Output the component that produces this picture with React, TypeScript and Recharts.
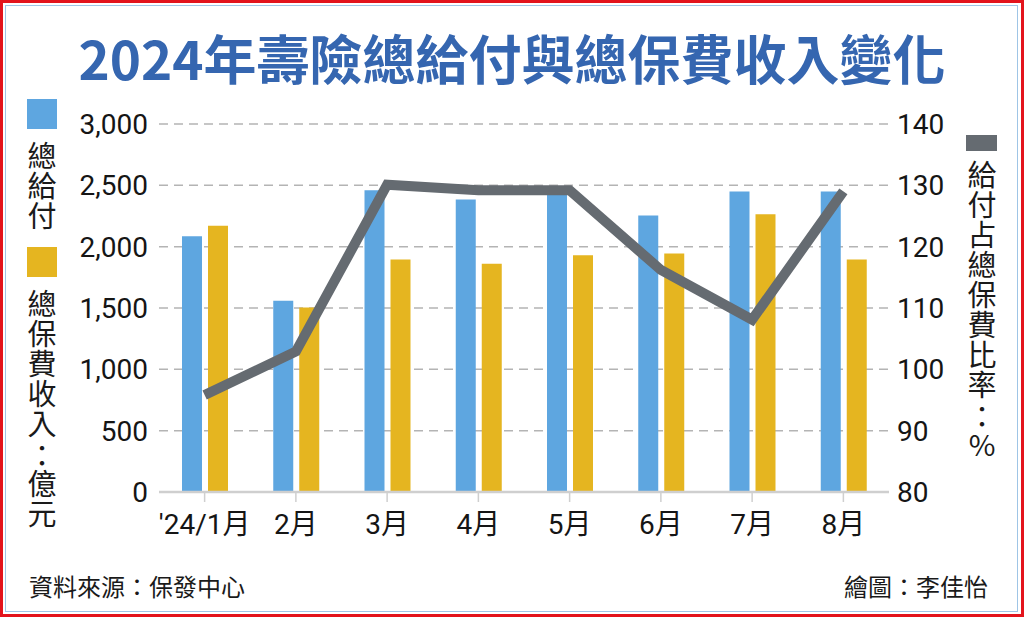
import { ComposedChart, Bar, Line, XAxis, YAxis, CartesianGrid } from 'recharts';

// 2024年壽險總給付與總保費收入變化 (億元 / %)
const months = ["'24/1月", '2月', '3月', '4月', '5月', '6月', '7月', '8月'];
const totalPayout = [2085, 1560, 2460, 2385, 2455, 2255, 2450, 2450];
const totalPremium = [2170, 1505, 1895, 1860, 1930, 1945, 2265, 1895];
const payoutRatio = [95.8, 102.9, 130.1, 129.2, 129.2, 116.2, 108.1, 129.0];

const leftTicks = [0, 500, 1000, 1500, 2000, 2500, 3000];
const rightTicks = [80, 90, 100, 110, 120, 130, 140];

const BLUE = '#5ea6e0';
const YELLOW = '#e5b520';
const GREY = '#656b71';
const CJK = "'Noto Sans CJK TC', 'Noto Sans', sans-serif";
const NUM = "Roboto, 'Noto Sans CJK TC', sans-serif";

const data = months.map((m, i) => ({
  month: m,
  payout: totalPayout[i],
  premium: totalPremium[i],
  ratio: payoutRatio[i],
}));

// vertical legend caption; the colon is set horizontally so its dots stay stacked
function VText({ text, left, top }: { text: string; left: number; top: number }) {
  const parts = text.split('：');
  return (
    <div
      style={{
        position: 'absolute',
        left,
        top,
        width: 30,
        writingMode: 'vertical-rl',
        textOrientation: 'upright',
        fontFamily: CJK,
        fontSize: 29,
        lineHeight: '30px',
        letterSpacing: 1,
        color: '#1a1a1a',
      }}
    >
      {parts.map((p, i) => (
        <span key={i}>
          {i > 0 && (
            <span
              style={{
                display: 'inline-block',
                writingMode: 'horizontal-tb',
                width: 30,
                height: 30,
                lineHeight: '30px',
                textAlign: 'center',
                letterSpacing: 0,
              }}
            >
              ：
            </span>
          )}
          {p}
        </span>
      ))}
    </div>
  );
}

export default function App() {
  return (
    <div style={{ position: 'relative', width: 1024, height: 617, background: '#fff', overflow: 'hidden' }}>
      <style>{`body{margin:0}`}</style>

      <div
        style={{
          position: 'absolute',
          left: 0,
          top: 26,
          width: '100%',
          height: 62,
          textAlign: 'center',
          lineHeight: '62px',
          fontFamily: CJK,
          fontWeight: 700,
          fontSize: 53,
          color: '#3566b0',
        }}
      >
        2024年壽險總給付與總保費收入變化
      </div>

      {/* left legend */}
      <div style={{ position: 'absolute', left: 27, top: 99, width: 30, height: 30, background: BLUE }} />
      <VText text="總給付" left={27} top={141} />
      <div style={{ position: 'absolute', left: 27, top: 247, width: 30, height: 30, background: YELLOW }} />
      <VText text="總保費收入：億元" left={27} top={289} />

      {/* right legend */}
      <div style={{ position: 'absolute', left: 966, top: 135, width: 31, height: 16, background: GREY }} />
      <VText text="給付占總保費比率：%" left={967} top={160} />

      <div style={{ position: 'absolute', left: 0, top: 0 }}>
        <ComposedChart
          width={1024}
          height={617}
          data={data}
          margin={{ top: 124, right: 0, bottom: 0, left: 0 }}
          barGap={6}
        >
          <CartesianGrid
            yAxisId="left"
            vertical={false}
            stroke="#b4b4b4"
            strokeWidth={1.5}
            strokeDasharray="9 6"
          />
          <XAxis
            dataKey="month"
            height={125}
            axisLine={{ stroke: '#cfcfcf', strokeWidth: 2.5 }}
            tickLine={{ stroke: '#cfcfcf', strokeWidth: 1.5 }}
            tickSize={10}
            tickMargin={12}
            tick={{ fontSize: 28, fill: '#151515', fontFamily: NUM }}
            interval={0}
          />
          <YAxis
            yAxisId="left"
            width={159}
            domain={[0, 3000]}
            ticks={leftTicks}
            axisLine={false}
            tickLine={false}
            tickMargin={5}
            tick={{ fontSize: 28, fill: '#151515', fontFamily: NUM }}
            tickFormatter={(v: number) => v.toLocaleString('en-US')}
          />
          <YAxis
            yAxisId="right"
            orientation="right"
            width={135}
            domain={[80, 140]}
            ticks={rightTicks}
            axisLine={false}
            tickLine={false}
            tick={{ fontSize: 28, fill: '#151515', fontFamily: NUM }}
          />
          <Bar yAxisId="left" dataKey="payout" fill={BLUE} barSize={20} isAnimationActive={false} />
          <Bar yAxisId="left" dataKey="premium" fill={YELLOW} barSize={20} isAnimationActive={false} />
          <Line
            yAxisId="right"
            type="linear"
            dataKey="ratio"
            stroke={GREY}
            strokeWidth={10}
            strokeLinejoin="miter"
            dot={false}
            activeDot={false}
            isAnimationActive={false}
          />
        </ComposedChart>
      </div>

      {/* footer */}
      <div style={{ position: 'absolute', left: 29, top: 571, fontFamily: CJK, fontSize: 24, lineHeight: '30px', color: '#1a1a1a' }}>
        資料來源：保發中心
      </div>
      <div style={{ position: 'absolute', right: 36, top: 571, fontFamily: CJK, fontSize: 24, lineHeight: '30px', color: '#1a1a1a' }}>
        繪圖：李佳怡
      </div>

      {/* frame */}
      <div
        style={{
          position: 'absolute',
          left: 0,
          top: 0,
          width: 1024,
          height: 617,
          boxSizing: 'border-box',
          border: '3px solid #e3141c',
          pointerEvents: 'none',
        }}
      />
      <div
        style={{
          position: 'absolute',
          left: 5,
          top: 5,
          width: 1013,
          height: 607,
          boxSizing: 'border-box',
          border: '1px solid #9fc5e6',
          pointerEvents: 'none',
        }}
      />
    </div>
  );
}
